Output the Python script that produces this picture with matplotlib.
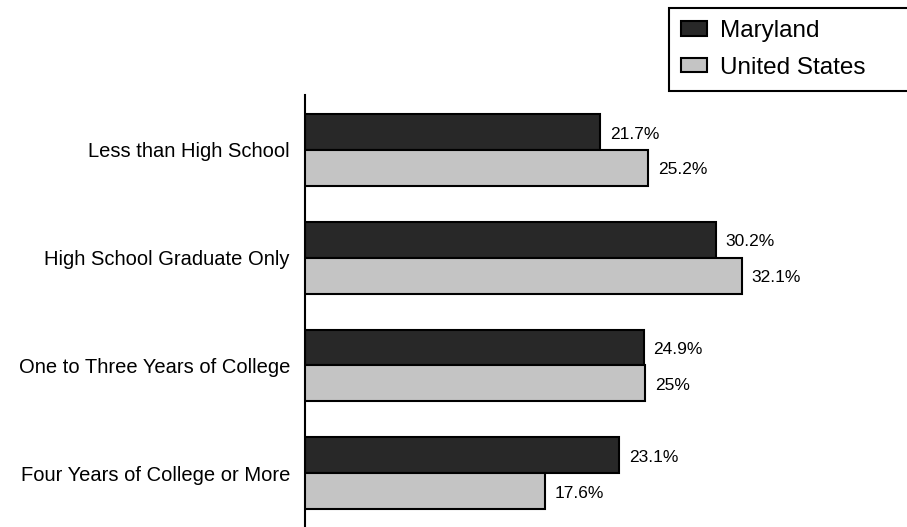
import matplotlib
matplotlib.use("Agg")
import matplotlib.pyplot as plt
import numpy as np

plt.rcParams['font.family'] = ['Liberation Sans', 'DejaVu Sans']

categories = ["Less than High School", "High School Graduate Only",
              "One to Three Years of College", "Four Years of College or More"]
maryland = [21.7, 30.2, 24.9, 23.1]
united_states = [25.2, 32.1, 25.0, 17.6]
maryland_labels = ["21.7%", "30.2%", "24.9%", "23.1%"]
us_labels = ["25.2%", "32.1%", "25%", "17.6%"]

W, H = 907, 527
fig = plt.figure(figsize=(W / 100, H / 100), dpi=100)
# axes: left spine at x=305 px, spanning y 95..528 px
ax = fig.add_axes([305 / W, 0, 1 - 305 / W, 1 - 95 / H])

y = np.arange(len(categories))
h = 0.333
dark = '#282828'
light = '#c4c4c4'
b1 = ax.barh(y - h / 2, maryland, height=h, color=dark, edgecolor='black',
             linewidth=1.5, label='Maryland', zorder=2)
b2 = ax.barh(y + h / 2, united_states, height=h, color=light, edgecolor='black',
             linewidth=1.5, label='United States', zorder=3)

for bars, labels in ((b1, maryland_labels), (b2, us_labels)):
    for rect, lab in zip(bars, labels):
        ax.annotate(lab, (rect.get_width(), rect.get_y() + rect.get_height() / 2),
                    xytext=(7, -1.5), textcoords='offset points',
                    ha='left', va='center', fontsize=12.5)

ax.set_xlim(0, (W - 305) / 13.61)
ax.set_ylim(3.5 + 0.0, -0.5 - 0.01)
ax.set_yticks(y)
ax.set_yticklabels(categories, fontsize=14.5)
ax.tick_params(axis='y', length=0, pad=10.8)
ax.set_xticks([])
for s in ('top', 'right', 'bottom'):
    ax.spines[s].set_visible(False)
ax.spines['left'].set_linewidth(1.5)

leg = fig.legend(handles=[b1, b2], loc='upper left',
                 bbox_to_anchor=(669 / W, 0, 0.3, 1 - 8 / H),
                 bbox_transform=fig.transFigure, mode='expand',
                 borderaxespad=0, fancybox=False, fontsize=17.5,
                 handlelength=1.05, handleheight=0.55, handletextpad=0.55,
                 labelspacing=0.6, borderpad=0.5, framealpha=1)
leg.get_frame().set_edgecolor('black')
leg.get_frame().set_linewidth(1.5)

fig.savefig('out.png', dpi=100)
